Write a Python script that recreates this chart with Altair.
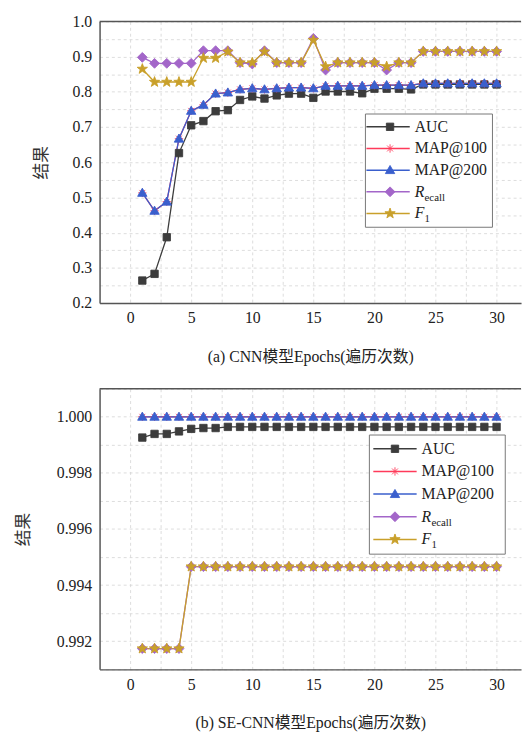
import altair as alt
import pandas as pd
import numpy as np

# ---------------- data ----------------
epochs = list(range(1, 31))
series_keys = ["s1", "s2", "s3", "s4", "s5"]
series_names = ["AUC", "MAP@100", "MAP@200", "Recall", "F1"]
legend_main = ["AUC", "MAP@100", "MAP@200", "R", "F"]
legend_sub = ["", "", "", "ecall", "1"]

# (a) CNN
auc_a = [0.264, 0.283, 0.387, 0.626, 0.705, 0.717, 0.745, 0.748, 0.777, 0.787,
         0.781, 0.790, 0.795, 0.795, 0.783, 0.801, 0.801, 0.801, 0.796, 0.809,
         0.809, 0.809, 0.807, 0.821, 0.821, 0.821, 0.821, 0.821, 0.821, 0.821]
map100_a = [0.513, 0.462, 0.488, 0.667, 0.746, 0.763, 0.795, 0.798, 0.807, 0.810,
            0.807, 0.810, 0.812, 0.812, 0.810, 0.817, 0.817, 0.817, 0.817, 0.819,
            0.819, 0.819, 0.819, 0.824, 0.824, 0.824, 0.824, 0.824, 0.824, 0.824]
map200_a = [0.513, 0.462, 0.488, 0.667, 0.746, 0.763, 0.795, 0.798, 0.807, 0.810,
            0.807, 0.810, 0.812, 0.812, 0.810, 0.817, 0.817, 0.817, 0.817, 0.819,
            0.819, 0.819, 0.819, 0.824, 0.824, 0.824, 0.824, 0.824, 0.824, 0.824]
recall_a = [0.898, 0.881, 0.881, 0.881, 0.881, 0.917, 0.917, 0.917, 0.883, 0.879,
            0.917, 0.883, 0.883, 0.883, 0.952, 0.862, 0.883, 0.883, 0.883, 0.883,
            0.862, 0.883, 0.883, 0.915, 0.915, 0.915, 0.915, 0.915, 0.915, 0.915]
f1_a = [0.865, 0.828, 0.828, 0.828, 0.828, 0.896, 0.896, 0.914, 0.883, 0.883,
        0.914, 0.883, 0.883, 0.883, 0.947, 0.872, 0.883, 0.883, 0.883, 0.883,
        0.872, 0.883, 0.883, 0.915, 0.915, 0.915, 0.915, 0.915, 0.915, 0.915]

# (b) SE-CNN
auc_b = [0.99926, 0.99939, 0.99939, 0.99948, 0.99957, 0.99960, 0.99960, 0.99964, 0.99964, 0.99964,
         0.99964, 0.99964, 0.99964, 0.99964, 0.99964, 0.99964, 0.99964, 0.99964, 0.99964, 0.99964,
         0.99964, 0.99964, 0.99964, 0.99964, 0.99964, 0.99964, 0.99964, 0.99964, 0.99964, 0.99964]
map100_b = [1.0] * 30
map200_b = [1.0] * 30
recall_b = [0.99174, 0.99174, 0.99174, 0.99174, 0.99466, 0.99466, 0.99466, 0.99466, 0.99466, 0.99466,
            0.99466, 0.99466, 0.99466, 0.99466, 0.99466, 0.99466, 0.99466, 0.99466, 0.99466, 0.99466,
            0.99466, 0.99466, 0.99466, 0.99466, 0.99466, 0.99466, 0.99466, 0.99466, 0.99466, 0.99466]
f1_b = [0.99174, 0.99174, 0.99174, 0.99174, 0.99466, 0.99466, 0.99466, 0.99466, 0.99466, 0.99466,
        0.99466, 0.99466, 0.99466, 0.99466, 0.99466, 0.99466, 0.99466, 0.99466, 0.99466, 0.99466,
        0.99466, 0.99466, 0.99466, 0.99466, 0.99466, 0.99466, 0.99466, 0.99466, 0.99466, 0.99466]

x_tick_values = [0, 2.5, 5, 7.5, 10, 12.5, 15, 17.5, 20, 22.5, 25, 27.5, 30]
y_ticks_a = [0.2, 0.25, 0.3, 0.35, 0.4, 0.45, 0.5, 0.55, 0.6, 0.65, 0.7, 0.75, 0.8, 0.85, 0.9, 0.95, 1.0]
y_ticks_b = [0.991, 0.992, 0.993, 0.994, 0.995, 0.996, 0.997, 0.998, 0.999, 1.000, 1.001]

# ---------------- style ----------------
colors = ["#3c3c3c", "#ff3a5a", "#3a5fcd", "#a366c9", "#c9a02a"]


def star_path(R=1.1, r=0.45):
    pts = []
    for k in range(10):
        ang = np.deg2rad(-90 + 36 * k)
        rad = R if k % 2 == 0 else r
        pts.append(f"{rad*np.cos(ang):.3f},{rad*np.sin(ang):.3f}")
    return "M" + "L".join(pts) + "Z"


shapes = [
    "M-0.75,-0.75H0.75V0.75H-0.75Z",
    "M-0.85,0H0.85M0,-0.85V0.85M-0.6,-0.6L0.6,0.6M-0.6,0.6L0.6,-0.6",
    "M0,-0.95L0.95,0.7L-0.95,0.7Z",
    "M0,-1L1,0L0,1L-1,0Z",
    star_path(),
]

SERIF = "Liberation Serif"
MIXED = "Liberation Serif, Noto Sans CJK SC"
W = 428


def panel(values, ydomain, yticks, ylabel_expr, caption, title_pad, leg, h):
    rows = []
    for key, name, vals in zip(series_keys, series_names, values):
        for e, v in zip(epochs, vals):
            rows.append({"key": key, "series": name, "epoch": e, "value": v})
    df = pd.DataFrame(rows)
    ldf = pd.DataFrame({"key": series_keys, "row": list(range(5)),
                        "main": legend_main, "sub": legend_sub})

    fill = alt.Fill("key:N", scale=alt.Scale(domain=series_keys, range=colors), legend=None)
    stroke = alt.Stroke("key:N", scale=alt.Scale(domain=series_keys, range=colors), legend=None)
    shape = alt.Shape("key:N", scale=alt.Scale(domain=series_keys, range=shapes), legend=None)

    x = alt.X("epoch:Q", scale=alt.Scale(domain=[-2.5, 32], nice=False, zero=False),
              axis=alt.Axis(values=x_tick_values, labelExpr="datum.value % 5 == 0 ? datum.label : ''",
                            title=caption, titlePadding=23, labelPadding=7, ticks=False,
                            titleFont=MIXED, titleFontSize=16, titleFontWeight="normal",
                            titleColor="#222"))
    y = alt.Y("value:Q", scale=alt.Scale(domain=ydomain, nice=False, zero=False),
              axis=alt.Axis(values=yticks, labelExpr=ylabel_expr, title="结果",
                            titlePadding=title_pad, labelPadding=8, ticks=False,
                            titleFont="Noto Sans CJK SC", titleFontSize=17,
                            titleFontWeight="normal", titleColor="#333"))

    base = alt.Chart(df)
    lines = base.mark_line(strokeWidth=1.3).encode(x=x, y=y, stroke=stroke, detail="key:N",
                                                   order="epoch:Q")
    points = base.mark_point(filled=True, size=100, strokeWidth=0.9, opacity=1).encode(
        x=x, y=y, fill=fill, stroke=stroke, shape=shape)
    main = alt.layer(lines, points)

    top_border = alt.Chart(pd.DataFrame({"a": [0]})).mark_rule(color="#555", strokeWidth=1.5).encode(
        x=alt.value(0), x2=alt.value(W), y=alt.value(0))

    lb = alt.Chart(ldf)
    ly = alt.Y("row:Q", scale=alt.Scale(domain=[0, 4], range=[leg["r0"], leg["r4"]]), axis=None)
    box = lb.transform_filter("datum.row == 0").mark_rect(
        fill="white", stroke="#777", strokeWidth=1).encode(
        x=alt.value(leg["x0"]), x2=alt.value(leg["x1"]), y=alt.value(leg["y0"]), y2=alt.value(leg["y1"]))
    lrule = lb.mark_rule(strokeWidth=1.5).encode(
        x=alt.value(leg["l0"]), x2=alt.value(leg["l1"]), y=ly, stroke=stroke)
    lpt = lb.mark_point(filled=True, size=100, strokeWidth=0.9, opacity=1).encode(
        x=alt.value(leg["m"]), y=ly, fill=fill, stroke=stroke, shape=shape)
    ltxt = lb.transform_filter("datum.row < 3").mark_text(
        align="left", baseline="middle", font=SERIF, fontSize=16, color="#222").encode(
        x=alt.value(leg["t"]), y=ly, text="main:N")
    ltxt_i = lb.transform_filter("datum.row >= 3").mark_text(
        align="left", baseline="middle", font=SERIF, fontSize=16, fontStyle="italic", color="#222").encode(
        x=alt.value(leg["t"]), y=ly, text="main:N")
    lsub = lb.transform_filter("datum.row >= 3").mark_text(
        align="left", baseline="middle", font=SERIF, fontSize=11, color="#222", dy=6).encode(
        x=alt.value(leg["t"] + 10), y=ly, text="sub:N")

    return alt.layer(main, top_border, box, lrule, lpt, ltxt, ltxt_i, lsub).resolve_scale(
        y="independent").properties(width=W, height=h)


leg_a = dict(x0=270, x1=399, y0=94, y1=209, r0=107, r4=195, l0=271, l1=315, m=295, t=320)
leg_b = dict(x0=274, x1=412, y0=47, y1=168, r0=61, r4=153, l0=278, l1=322, m=300, t=327)

top = panel([auc_a, map100_a, map200_a, recall_a, f1_a], [0.2, 1.0], y_ticks_a,
            "abs(datum.value*10 - round(datum.value*10)) < 0.001 ? format(datum.value, '.1f') : ''",
            "(a) CNN模型Epochs(遍历次数)", 22, leg_a, 286)
bottom = panel([auc_b, map100_b, map200_b, recall_b, f1_b], [0.991, 1.001], y_ticks_b,
               "abs(datum.value*500 - round(datum.value*500)) < 0.001 ? format(datum.value, '.3f') : ''",
               "(b) SE-CNN模型Epochs(遍历次数)", 24, leg_b, 285)

chart = alt.vconcat(top, bottom, spacing=24).properties(
    padding={"left": 7, "top": 0, "right": 0, "bottom": 0}, background="white"
).configure_view(stroke=None).configure_axis(
    labelFont=SERIF, labelFontSize=16, labelColor="#222",
    domainColor="#555", domainWidth=1.5,
    grid=True, gridColor="#d4d4d4", gridDash=[3, 3], gridWidth=0.8,
)

chart.save("out.html", embed_options={"renderer": "svg", "actions": False})
